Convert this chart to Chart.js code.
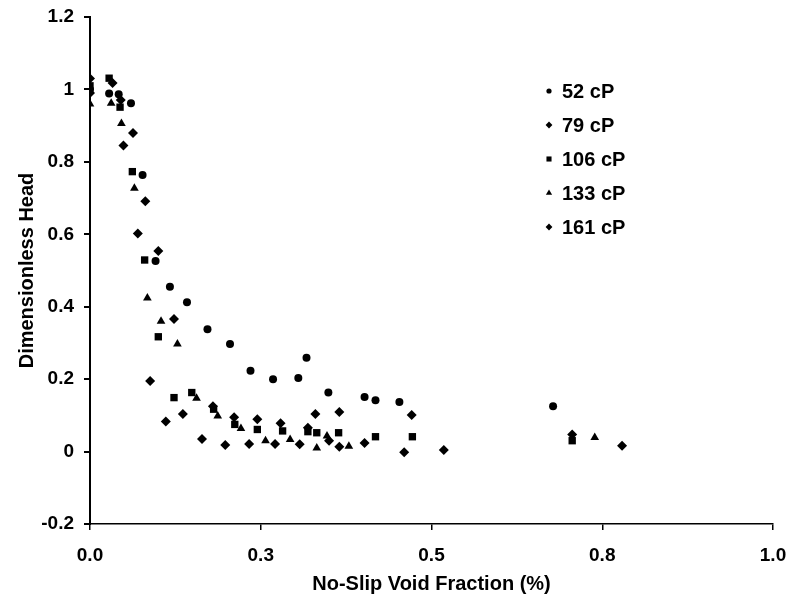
<!DOCTYPE html>
<html>
<head>
<meta charset="utf-8">
<title>Dimensionless Head vs No-Slip Void Fraction</title>
<script src="https://cdn.jsdelivr.net/npm/chart.js@4.4.1/dist/chart.umd.min.js"></script>
<style>
    html, body { margin: 0; padding: 0; background: #fff; }
    #wrap { width: 790px; height: 602px; }
</style>
</head>
<body>
<div id="wrap"><canvas id="chart" width="790" height="602"></canvas></div>
<script>
/********
 * Data *
 ********/
const seriesLabels = ['52 cP', '79 cP', '106 cP', '133 cP', '161 cP'];
const seriesStyles = ['circle', 'rectRot', 'rect', 'triangle', 'rectRot'];

const visc52X = [0, 0.028, 0.042, 0.060, 0.077, 0.096, 0.117, 0.142, 0.172, 0.205, 0.235, 0.268, 0.305, 0.317, 0.349, 0.402, 0.418, 0.453, 0.678];
const visc52Y = [1.00, 0.989, 0.987, 0.962, 0.764, 0.526, 0.455, 0.412, 0.338, 0.297, 0.223, 0.200, 0.203, 0.259, 0.163, 0.151, 0.142, 0.137, 0.125];

const visc79X = [0, 0.033, 0.063, 0.081, 0.100, 0.123, 0.136, 0.180, 0.211, 0.245, 0.279, 0.319, 0.330, 0.365, 0.471, 0.706];
const visc79Y = [1.03, 1.018, 0.880, 0.691, 0.554, 0.366, 0.104, 0.125, 0.095, 0.089, 0.078, 0.066, 0.104, 0.109, 0.101, 0.047];

const visc106X = [0, 0.028, 0.044, 0.062, 0.080, 0.100, 0.123, 0.149, 0.181, 0.212, 0.245, 0.282, 0.319, 0.332, 0.364, 0.418, 0.472, 0.706];
const visc106Y = [1.01, 1.031, 0.951, 0.773, 0.529, 0.317, 0.149, 0.163, 0.117, 0.075, 0.061, 0.057, 0.055, 0.052, 0.052, 0.041, 0.041, 0.030];

const visc133X = [0, 0.031, 0.046, 0.065, 0.084, 0.104, 0.128, 0.156, 0.187, 0.221, 0.257, 0.293, 0.332, 0.347, 0.379, 0.739];
const visc133Y = [0.96, 0.962, 0.906, 0.727, 0.424, 0.360, 0.297, 0.147, 0.098, 0.064, 0.030, 0.033, 0.010, 0.043, 0.015, 0.039];

const visc161X = [0, 0.045, 0.049, 0.070, 0.088, 0.111, 0.164, 0.198, 0.233, 0.271, 0.307, 0.350, 0.365, 0.402, 0.460, 0.518, 0.779];
const visc161Y = [0.99, 0.971, 0.845, 0.602, 0.195, 0.083, 0.035, 0.018, 0.021, 0.021, 0.020, 0.030, 0.013, 0.024, -0.002, 0.004, 0.016];

const seriesX = [visc52X, visc79X, visc106X, visc133X, visc161X];
const seriesY = [visc52Y, visc79Y, visc106Y, visc133Y, visc161Y];

/**********
 * Styles *
 **********/
const fontFamily = '"Liberation Sans", Arial, sans-serif';
const markerRadius = { circle: 4, rectRot: 5, rect: 5.2, triangle: 5 };
const legendRadius = { circle: 2.6, rectRot: 3.4, rect: 3.6, triangle: 3.6 };

function toPoints(xs, ys) {
    return xs.map((x, i) => ({ x: x, y: ys[i] }));
}

const datasets = seriesLabels.map((label, i) => ({
    label: label,
    data: toPoints(seriesX[i], seriesY[i]),
    pointStyle: seriesStyles[i],
    pointRadius: markerRadius[seriesStyles[i]],
    pointBackgroundColor: '#000',
    pointBorderColor: '#000',
    pointBorderWidth: 0,
    showLine: false
}));

/**
 * Draws the legend as a plain column of markers and labels inside the plot.
 */
const insideLegend = {
    id: 'insideLegend',
    afterDraw(chart) {
        const ctx = chart.ctx;
        const markerX = 549;
        const textX = 562;
        const firstRow = 91;
        const rowStep = 34;
        ctx.save();
        ctx.fillStyle = '#000';
        ctx.font = 'bold 20px ' + fontFamily;
        ctx.textBaseline = 'middle';
        ctx.textAlign = 'left';
        chart.data.datasets.forEach((ds, i) => {
            const y = firstRow + i * rowStep;
            Chart.helpers.drawPoint(ctx, {
                pointStyle: ds.pointStyle,
                radius: legendRadius[ds.pointStyle],
                rotation: 0,
                borderWidth: 0
            }, markerX, y);
            ctx.fillText(ds.label, textX, y + 1);
        });
        ctx.restore();
    }
};

const axisFont = { family: fontFamily, size: 19, weight: 'bold' };
const titleFont = { family: fontFamily, size: 20, weight: 'bold' };

// fixed axis box sizes; label overflow is covered by the layout padding
function fitX(scale) {
    scale.height = 78;
    scale.paddingLeft = 0;
    scale.paddingRight = 0;
}

function fitY(scale) {
    scale.width = 90;
    scale.paddingTop = 0;
    scale.paddingBottom = 0;
}

new Chart(document.getElementById('chart').getContext('2d'), {
    type: 'scatter',
    data: { datasets: datasets },
    options: {
        responsive: false,
        animation: false,
        events: [],
        layout: { padding: { top: 17, right: 17, left: 0, bottom: 0 } },
        plugins: {
            legend: { display: false },
            tooltip: { enabled: false }
        },
        scales: {
            x: {
                type: 'linear',
                min: 0,
                max: 1,
                afterFit: fitX,
                ticks: {
                    stepSize: 0.25,
                    color: '#000',
                    font: axisFont,
                    padding: 14,
                    maxRotation: 0,
                    callback: value => value.toFixed(1)
                },
                grid: {
                    drawOnChartArea: false,
                    drawTicks: true,
                    tickLength: 6,
                    color: '#000',
                    lineWidth: 1.5
                },
                border: { display: true, color: '#000', width: 1.5 },
                title: {
                    display: true,
                    text: 'No-Slip Void Fraction (%)',
                    color: '#000',
                    font: titleFont,
                    padding: { top: 0, bottom: 6 }
                }
            },
            y: {
                type: 'linear',
                min: -0.2,
                max: 1.2,
                afterFit: fitY,
                ticks: {
                    stepSize: 0.2,
                    color: '#000',
                    font: axisFont,
                    padding: 10,
                    callback: value => String(parseFloat(value.toFixed(1)))
                },
                grid: {
                    drawOnChartArea: false,
                    drawTicks: true,
                    tickLength: 6,
                    color: '#000',
                    lineWidth: 2
                },
                border: { display: true, color: '#000', width: 2 },
                title: {
                    display: true,
                    text: 'Dimensionless Head',
                    color: '#000',
                    font: titleFont,
                    padding: { top: 15, bottom: 0 }
                }
            }
        }
    },
    plugins: [insideLegend]
});
</script>
</body>
</html>
